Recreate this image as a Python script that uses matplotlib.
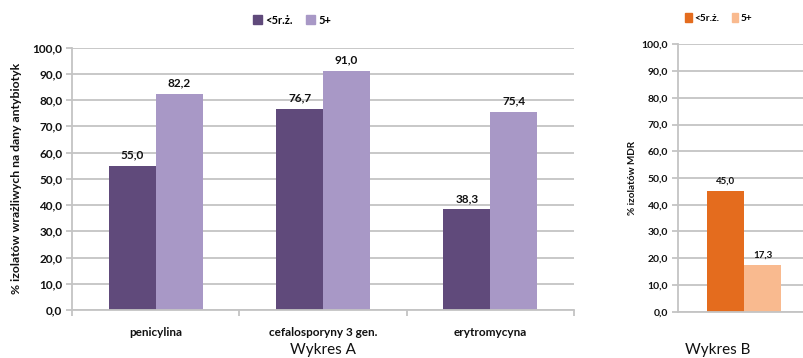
import matplotlib
matplotlib.use("Agg")
import matplotlib.pyplot as plt
from matplotlib.patches import Patch
import numpy as np

plt.rcParams['font.family'] = ['Lato', 'DejaVu Sans']

# Wykres A: odsetek izolatów wrażliwych
categories_a = ["penicylina", "cefalosporyny 3 gen.", "erytromycyna"]
under5_a = [55.0, 76.7, 38.3]
over5_a = [82.2, 91.0, 75.4]

# Wykres B: odsetek izolatów MDR
under5_b = [45.0]
over5_b = [17.3]

series_names = ["<5r.ż.", "5+"]
yticks = np.arange(0, 101, 10)

dark_purple = "#604A7B"
light_purple = "#A898C6"
dark_orange = "#E46C1E"
light_orange = "#F9BA8F"
grid_c = "#C4C4C4"
text_c = "#111111"

W, H = 804, 358
fig = plt.figure(figsize=(W / 100, H / 100), dpi=100)


def style_axes(ax, fs):
    ax.set_ylim(0, 100)
    ax.set_yticks(yticks)
    ax.set_yticklabels([f"{v:.1f}".replace(".", ",") for v in yticks],
                       fontsize=fs, fontweight="bold", color=text_c)
    ax.yaxis.grid(True, color=grid_c, linewidth=1.3)
    ax.set_axisbelow(True)
    for s in ["top", "right"]:
        ax.spines[s].set_visible(False)
    for s in ["left", "bottom"]:
        ax.spines[s].set_color(grid_c)
        ax.spines[s].set_linewidth(1.3)
    ax.tick_params(axis="y", length=4, color=grid_c, width=1.3, pad=3)


def label_bars(ax, bars, vals, fs):
    for b, v in zip(bars, vals):
        ax.annotate(f"{v:.1f}".replace(".", ","),
                    (b.get_x() + b.get_width() / 2, b.get_height()),
                    xytext=(0, 4), textcoords="offset points",
                    ha="center", va="bottom", fontsize=fs,
                    fontweight="bold", color=text_c)


# ---- Wykres A ----
axA = fig.add_axes([72 / W, (H - 310) / H, 502 / W, 262.5 / H])
x = np.arange(len(categories_a))
bw = 0.28
bA1 = axA.bar(x - bw / 2, under5_a, bw, color=dark_purple)
bA2 = axA.bar(x + bw / 2, over5_a, bw, color=light_purple)
axA.set_xlim(-0.5, len(categories_a) - 0.5)
style_axes(axA, 8.5)
axA.set_xticks(x)
axA.set_xticklabels(categories_a, fontsize=8.5, fontweight="bold", color=text_c)
axA.tick_params(axis="x", which="major", length=0, pad=12)
axA.set_xticks(np.arange(-0.5, len(categories_a), 1.0), minor=True)
axA.tick_params(axis="x", which="minor", length=4, color=grid_c, width=1.3)
label_bars(axA, bA1, under5_a, 8.5)
label_bars(axA, bA2, over5_a, 8.5)
axA.set_ylabel("% izolatów wrażliwych na dany antybiotyk", fontsize=8.8,
               fontweight="bold", color=text_c)
axA.yaxis.set_label_coords(-50 / 502, 0.5)
axA.set_xlabel("Wykres A", fontsize=11, color=text_c, va="center")
axA.xaxis.set_label_coords(0.5, -40 / 262.5)

fig.legend(handles=[Patch(color=dark_purple), Patch(color=light_purple)],
           labels=series_names, loc="center", bbox_to_anchor=(292 / W, 1 - 20 / H),
           ncol=2, frameon=False, prop={"weight": "bold", "size": 8},
           handlelength=0.8, handleheight=0.8, handletextpad=0.3, columnspacing=1.2)

# ---- Wykres B ----
axB = fig.add_axes([678 / W, (H - 311.7) / H, (W - 678) / W, 267.4 / H])
bwB = 0.28
bB1 = axB.bar([-bwB / 2], under5_b, bwB, color=dark_orange)
bB2 = axB.bar([bwB / 2], over5_b, bwB, color=light_orange)
axB.set_xlim(-0.5, -0.5 + 126 / 132)
style_axes(axB, 7.5)
axB.set_xticks([])
label_bars(axB, bB1, under5_b, 7)
label_bars(axB, bB2, over5_b, 7)
axB.set_ylabel("% izolatów MDR", fontsize=7.2, fontweight="bold", color=text_c)
axB.yaxis.set_label_coords(-41 / 126, (311.7 - 178) / 267.4)
axB.set_xlabel("Wykres B", fontsize=11, color=text_c, va="center")
axB.xaxis.set_label_coords((718 - 678) / 126, -38.3 / 267.4)

fig.legend(handles=[Patch(color=dark_orange), Patch(color=light_orange)],
           labels=series_names, loc="center", bbox_to_anchor=(719 / W, 1 - 18 / H),
           ncol=2, frameon=False, prop={"weight": "bold", "size": 7.3},
           handlelength=0.6, handleheight=0.9, handletextpad=0.3, columnspacing=1.2)

fig.savefig("out.png", dpi=100)
